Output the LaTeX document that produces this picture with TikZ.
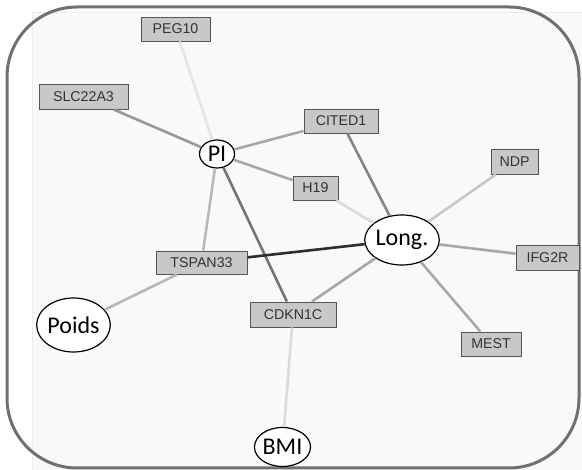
\documentclass[tikz,border=0pt]{standalone}
\usepackage{fontspec}
\setmainfont{Liberation Sans}
\newfontfamily\calfont{Carlito}
\usetikzlibrary{shapes.geometric}
\definecolor{boxfill}{HTML}{C8C8C8}
\definecolor{boxline}{HTML}{555555}
\definecolor{boxtext}{HTML}{333333}
\definecolor{frameline}{HTML}{707070}
\definecolor{e1}{HTML}{E4E4E4}
\definecolor{e2}{HTML}{DADADA}
\definecolor{e3}{HTML}{C8C8C8}
\definecolor{e4}{HTML}{B8B8B8}
\definecolor{e5}{HTML}{A8A8A8}
\definecolor{e6}{HTML}{989898}
\definecolor{e7}{HTML}{858585}
\definecolor{e8}{HTML}{747474}
\definecolor{e9}{HTML}{2E2E2E}
\tikzset{
  gene/.style={draw=boxline, fill=boxfill, line width=0.9pt, inner sep=0pt,
    text=boxtext, font=\fontsize{14.2}{16}\selectfont},
  trait/.style={ellipse, draw=black, fill=white, line width=1.2pt, inner sep=0pt,
    font=\calfont\fontsize{24}{26}\selectfont},
  edge/.style={line width=2.6pt}
}
\begin{document}
\begin{tikzpicture}[x=1pt,y=-1pt]
\useasboundingbox (0,0) rectangle (582,470);
\fill[white] (0,0) rectangle (582,470);
\fill[gray!5] (32,12) rectangle (582,470);
\draw[gray!15, line width=0.6pt] (32,470) -- (32,12) -- (582,12);
\draw[frameline, line width=3pt, rounded corners=70pt] (7,7) rectangle (579,468);

% nodes
\node[gene, minimum width=69pt, minimum height=24pt] (peg) at (175.5,29) {PEG10};
\node[gene, minimum width=89pt, minimum height=25pt] (slc) at (83.5,96.5) {SLC22A3};
\node[gene, minimum width=74pt, minimum height=24pt] (cited) at (341,121) {CITED1};
\node[gene, minimum width=47pt, minimum height=25pt] (ndp) at (514.5,161.5) {NDP};
\node[gene, minimum width=45pt, minimum height=24pt] (h19) at (315.5,188) {H19};
\node[gene, minimum width=63pt, minimum height=25pt] (ifg) at (547.5,257.5) {IFG2R};
\node[gene, minimum width=60pt, minimum height=24pt] (mest) at (491,344) {MEST};
\node[gene, minimum width=91pt, minimum height=23pt] (tspan) at (201.5,262.5) {TSPAN33};
\node[gene, minimum width=86pt, minimum height=25pt] (cdkn) at (293,314.5) {CDKN1C};
\node[trait, minimum width=35pt, minimum height=28pt] (pi) at (217,154) {PI};
\node[trait, minimum width=60pt, minimum height=50pt] (long) at (402,240) {Long.};
\node[trait, minimum width=61pt, minimum height=54pt] (poids) at (73.5,325) {Poids};
\node[trait, minimum width=51pt, minimum height=39pt] (bmi) at (282.5,447) {BMI};

% edges
\draw[edge, e1] (pi) -- (peg);
\draw[edge, e6] (pi) -- (slc);
\draw[edge, e5] (pi) -- (cited);
\draw[edge, e5] (pi) -- (h19);
\draw[edge, e4] (pi) -- (tspan);
\draw[edge, e8] (pi) -- (cdkn);
\draw[edge, e7] (cited) -- (long);
\draw[edge, e2] (h19) -- (long);
\draw[edge, e3] (ndp) -- (long);
\draw[edge, e5] (ifg) -- (long);
\draw[edge, e5] (mest) -- (long);
\draw[edge, e5] (cdkn) -- (long);
\draw[edge, e9] (tspan) -- (long);
\draw[edge, e4] (tspan) -- (poids);
\draw[edge, e2] (cdkn) -- (bmi);
\end{tikzpicture}
\end{document}
